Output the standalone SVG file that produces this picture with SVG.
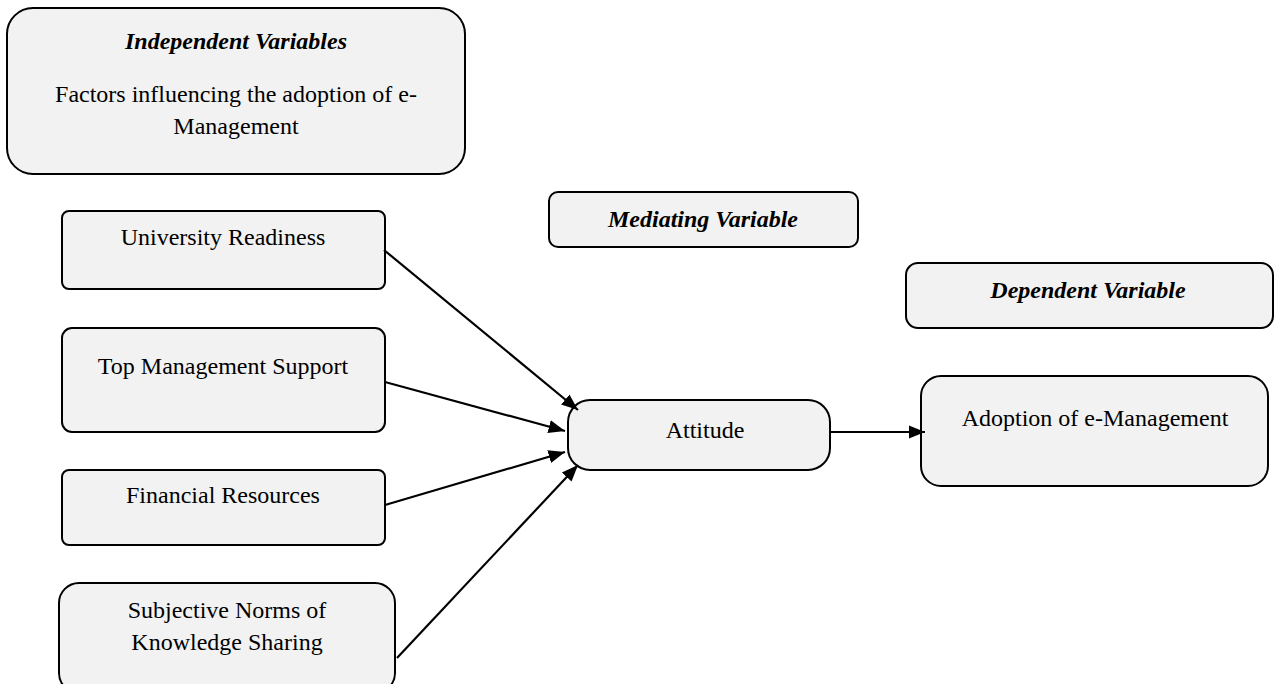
<svg xmlns="http://www.w3.org/2000/svg" width="1278" height="684" viewBox="0 0 1278 684">
<defs>
<style>
.box{fill:#f2f2f2;stroke:#000;stroke-width:2}
.t{font-family:"Liberation Serif","Times New Roman",serif;font-size:24px;fill:#000;text-anchor:middle}
.h{font-weight:bold;font-style:italic}
.c{stroke:#000;stroke-width:2.2;fill:none;marker-end:url(#ah)}
</style>
<marker id="ah" viewBox="0 0 10 10" refX="10" refY="5" markerWidth="7.5" markerHeight="7.5" markerUnits="strokeWidth" orient="auto">
<path d="M0,1 L10,5 L0,9 z" fill="#000"/>
</marker>
</defs>
<rect width="1278" height="684" fill="#fff"/>
<g id="independent">
<rect class="box" x="7" y="8" width="458" height="166" rx="26"/>
<text class="t h" x="236" y="49">Independent Variables</text>
<text class="t" x="236" y="102">Factors influencing the adoption of e-</text>
<text class="t" x="236" y="134">Management</text>
</g>
<g id="mediating">
<rect class="box" x="549" y="192" width="309" height="55" rx="9"/>
<text class="t h" x="703" y="227">Mediating Variable</text>
</g>
<g id="dependent">
<rect class="box" x="906" y="263" width="367" height="65" rx="12"/>
<text class="t h" x="1088" y="298">Dependent Variable</text>
</g>
<g id="university">
<rect class="box" x="62" y="211" width="323" height="78" rx="7"/>
<text class="t" x="223" y="245">University Readiness</text>
</g>
<g id="topmgmt">
<rect class="box" x="62" y="328" width="323" height="104" rx="10"/>
<text class="t" x="223" y="374">Top Management Support</text>
</g>
<g id="financial">
<rect class="box" x="62" y="470" width="323" height="75" rx="7"/>
<text class="t" x="223" y="503">Financial Resources</text>
</g>
<g id="subjective">
<rect class="box" x="59" y="583" width="336" height="110" rx="20"/>
<text class="t" x="227" y="618">Subjective Norms of</text>
<text class="t" x="227" y="650">Knowledge Sharing</text>
</g>
<g id="attitude">
<rect class="box" x="568" y="400" width="262" height="70" rx="22"/>
<text class="t" x="705" y="438">Attitude</text>
</g>
<g id="adoption">
<rect class="box" x="921" y="376" width="347" height="110" rx="20"/>
<text class="t" x="1095" y="426">Adoption of e-Management</text>
</g>
<g id="connectors">
<line class="c" x1="384" y1="250" x2="578" y2="410"/>
<line class="c" x1="385" y1="382" x2="565" y2="431"/>
<line class="c" x1="385" y1="505" x2="565" y2="452"/>
<line class="c" x1="397" y1="658" x2="578" y2="465"/>
<line class="c" x1="831" y1="432" x2="925" y2="432"/>
</g>
</svg>
